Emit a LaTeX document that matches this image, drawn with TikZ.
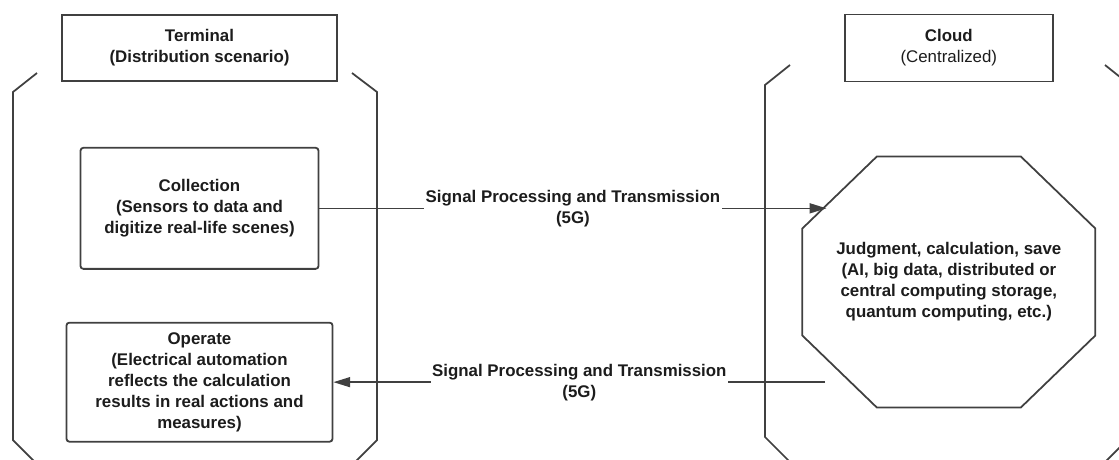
\documentclass[tikz,border=0pt]{standalone}
\usepackage{fontspec}
\setmainfont{Liberation Sans}
\usetikzlibrary{positioning,arrows.meta}
\definecolor{ln}{RGB}{64,64,64}
\definecolor{tx}{RGB}{28,28,28}

\begin{document}
\begin{tikzpicture}[node distance=1.3cm and 12.65cm, every node/.style={font=\fontsize{12}{14.9}\selectfont\bfseries, text=tx},
  hd/.style={draw=ln, line width=1.3pt, align=center, minimum width=6.875cm, minimum height=1.65cm},
  bx/.style={draw=ln, line width=1.3pt, rounded corners=2pt, align=center},
  br/.style={draw=ln, line width=1.25pt},
  a/.style={draw=ln, line width=1.1pt, -{Triangle[length=4.2mm, width=2.5mm]}},
  lb/.style={fill=white, align=center, inner sep=1pt}]
\useasboundingbox (0,0) rectangle (27.975,-11.475);
\node[hd] (term) at (4.9875,-1.2) {Terminal\\(Distribution scenario)};
\node[hd, minimum width=5.2cm, minimum height=1.675cm, right=of term] (cloud) {Cloud\\{\mdseries(Centralized)}};
\node[bx, minimum width=5.95cm, minimum height=3.025cm, below=1.625cm of term] (coll) {Collection\\(Sensors to data and\\digitize real-life scenes)};
\node[bx, minimum width=6.65cm, minimum height=2.975cm, below=of coll] (op) {Operate\\(Electrical automation\\reflects the calculation\\results in real actions and\\measures)};
\node[align=center] (oct) at ([yshift=-5.85cm]cloud.center) {Judgment, calculation, save\\(AI, big data, distributed or\\central computing storage,\\quantum computing, etc.)};
% octagon round the cloud text
\draw[br] (oct.center) ++(-1.8,3.1375) -- ++(3.6,0) -- ++(1.8625,-1.8) -- ++(0,-2.675) -- ++(-1.8625,-1.8) -- ++(-3.6,0) -- ++(-1.8625,1.8) -- ++(0,2.675) -- cycle;
\coordinate (oin) at ([xshift=-3.06cm]oct.center);
\coordinate (oout) at ([xshift=-3.09cm]oct.center);
% side brackets
\draw[br] (0.925,-1.825) -- (0.325,-2.3) -- (0.325,-11) -- (0.875,-11.55);
\draw[br] (8.8,-1.825) -- (9.425,-2.3) -- (9.425,-11) -- (8.875,-11.55);
\draw[br] (19.75,-1.625) -- (19.125,-2.125) -- (19.125,-10.925) -- (19.75,-11.55);
\draw[br] (27.625,-1.625) -- (28.25,-2.125) -- (28.25,-10.925) -- (27.625,-11.55);
\draw[a] (coll.east) -- (coll.east -| oin) node[lb, midway] {Signal Processing and Transmission\\(5G)};
\draw[a] (oout |- op.east) -- (op.east) node[lb, midway] {Signal Processing and Transmission\\(5G)};
\end{tikzpicture}
\end{document}
